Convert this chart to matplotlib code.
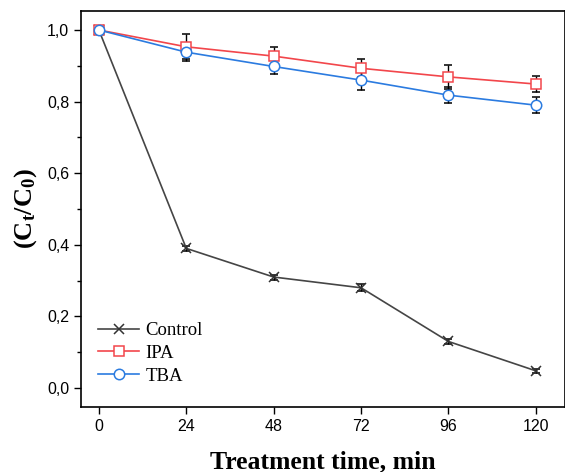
import matplotlib.pyplot as plt
from matplotlib.ticker import MultipleLocator, FuncFormatter
from matplotlib.lines import Line2D

plt.rcParams['mathtext.fontset'] = 'custom'
plt.rcParams['mathtext.rm'] = 'Liberation Serif:bold'
plt.rcParams['mathtext.it'] = 'Liberation Serif:bold'
plt.rcParams['mathtext.bf'] = 'Liberation Serif:bold'

# treatment time (min)
time = [0, 24, 48, 72, 96, 120]

control = [1.0, 0.39, 0.31, 0.28, 0.13, 0.048]
control_err = [0.004, 0.008, 0.007, 0.01, 0.006, 0.005]

ipa = [1.0, 0.953, 0.927, 0.893, 0.869, 0.849]
ipa_err = [0.004, 0.035, 0.026, 0.025, 0.033, 0.023]

tba = [1.0, 0.938, 0.898, 0.860, 0.818, 0.790]
tba_err = [0.004, 0.025, 0.021, 0.029, 0.023, 0.022]

fig = plt.figure(figsize=(5.65, 4.72), dpi=100)
ax = fig.add_axes([0.1434, 0.1377, 0.8566, 0.839])

err_kw = dict(ecolor='black', elinewidth=1, capsize=3, capthick=1)
styles = [
    dict(color='#454545', marker='x', ms=7, mfc='#333333', mec='#333333', mew=1.1),
    dict(color='#f2464b', marker='s', ms=6.5, mfc='white', mec='#f2464b', mew=1.1),
    dict(color='#2b7be0', marker='o', ms=7.5, mfc='white', mec='#2b7be0', mew=1.1),
]
names = ['Control', 'IPA', 'TBA']
for y, e, st in zip([control, ipa, tba], [control_err, ipa_err, tba_err], styles):
    ax.errorbar(time, y, yerr=e, lw=1.2, **st, **err_kw)

ax.set_xlim(-4.9, 128)
ax.set_ylim(-0.053, 1.053)
ax.set_xticks(time)
ax.yaxis.set_major_locator(MultipleLocator(0.2))
ax.yaxis.set_minor_locator(MultipleLocator(0.1))
ax.yaxis.set_major_formatter(FuncFormatter(lambda v, p: f'{v:.1f}'.replace('.', ',')))

ax.tick_params(which='both', direction='out', width=1, labelsize=11.5)
ax.tick_params(which='major', length=5)
ax.tick_params(which='minor', length=3)
for lab in ax.get_xticklabels() + ax.get_yticklabels():
    lab.set_family('Liberation Sans')
for s in ax.spines.values():
    s.set_linewidth(1.2)

ax.set_xlabel('Treatment time, min', family='Liberation Serif', fontweight='bold',
              fontsize=18.5, labelpad=12)
ax.set_ylabel(r'(C$_\mathrm{t}$/C$_\mathrm{0}$)', family='Liberation Serif',
              fontweight='bold', fontsize=19, labelpad=6)

handles = [Line2D([], [], lw=1.2, **st) for st in styles]
ax.legend(handles, names, loc='lower left', bbox_to_anchor=(0.0, 0.014), frameon=False,
          prop={'family': 'Liberation Serif', 'size': 13.5},
          handlelength=2.2, handletextpad=0.35, labelspacing=0.3)

plt.savefig('out.png', dpi=100)
